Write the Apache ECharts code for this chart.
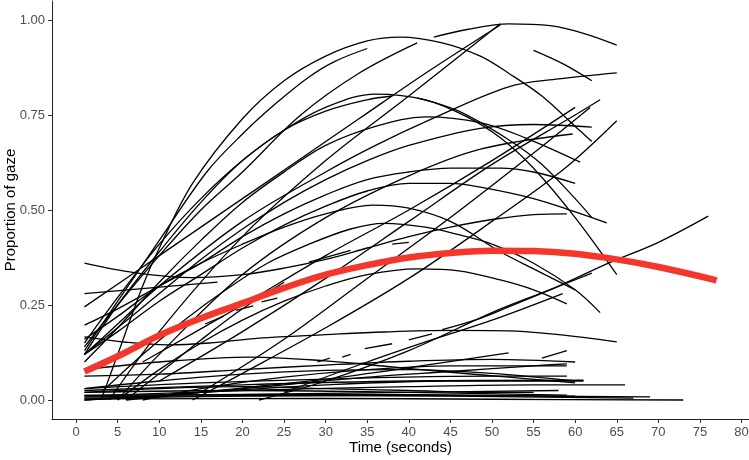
<!DOCTYPE html>
<html>
<head>
<meta charset="utf-8">
<script src="https://cdn.jsdelivr.net/npm/echarts@6/dist/echarts.min.js"></script>
<style>
html,body{margin:0;padding:0;background:#fff;}
#chart{width:749px;height:460px;}
</style>
</head>
<body>
<div id="chart"></div>
<script>
// ---- tick labels ----
const timeTicks = [0,5,10,15,20,25,30,35,40,45,50,55,60,65,70,75,80];
const propTicks = [0,0.25,0.5,0.75,1];

// ---- overall (red) fit ----
const overallTime = [1,5,10,15,20,25,30,35,40,45,50,55,60,65,70,77];
const overallProp = [0.075,0.115,0.17,0.215,0.255,0.295,0.33,0.355,0.375,0.387,0.393,0.392,0.385,0.37,0.35,0.315];

// ---- individual fits: [time, proportion] points, null = gap ----
const highCurves = [
  [[3,0],[5,0.12],[8,0.3],[10,0.4],[14,0.57],[20,0.74],[25,0.84],[30,0.905],[35,0.945],[39,0.955],[44,0.94],[48.6,0.905],[52,0.86],[56,0.8],[60,0.72],[62,0.68]],
  [[1,0.13],[5,0.26],[10,0.42],[15.7,0.6],[20,0.7],[24,0.78],[28,0.85],[31,0.89],[35,0.925],null,[43,0.955],[47,0.975],[52,0.99],[57,0.985],[61,0.965],[65,0.934]],
  [[1,0.14],[5,0.25],[10,0.38],[15,0.5],[20,0.6],[27,0.75],[34,0.86],[41,0.94],null,[55,0.92],[58.5,0.885],[62,0.84]],
  [[1,0.12],[5,0.2],[10,0.3],[20,0.47],[30,0.6],[36,0.67],[42.5,0.737],[52,0.824],[58,0.845],[65,0.861]],
  [[1,0.245],[10,0.38],[20,0.53],[34,0.74],[42,0.86],[51,0.987]],
  [[4,0],[10,0.18],[20,0.43],[30,0.63],[40,0.8],[51,0.99]],
  [[1,0.12],[5,0.25],[10,0.39],[15,0.52],[20,0.63],[25,0.71],[30,0.77],[36,0.805],[42,0.79],[47,0.745],[51,0.69],[55,0.61],[60,0.48],[65,0.33]],
  [[1,0.15],[5,0.27],[10,0.41],[15,0.53],[20,0.63],[25,0.71],[30,0.76],[35,0.79],[38,0.8],null,[41,0.795],[46,0.76],[52,0.685],[56,0.62],[60,0.53],[62,0.48]],
  [[1,0.1],[5,0.19],[10,0.31],[15,0.42],[20,0.52],[25,0.6],[30,0.67],[36,0.72],[42,0.745],[48.6,0.73],[54,0.69],[60.6,0.626]],
  [[1,0.12],[5,0.19],[10,0.28],[15,0.37],[20,0.45],[25,0.52],[30,0.58],[35,0.63],[40,0.67],[48.6,0.715],[55,0.725],[62,0.718]],
  [[5,0],[10,0.12],[20,0.33],[30,0.48],[40,0.59],[48.6,0.66],[59.7,0.70]],
  [[10,0.05],[20,0.18],[30,0.32],[40,0.47],[50,0.62],[60,0.75],[63,0.79]],
  [[15,0.02],[25,0.16],[35,0.32],[45,0.48],[55,0.65],[61.8,0.77]],
  [[8,0.1],[20,0.25],[30,0.38],[40,0.5],[50,0.63],[60,0.77]],
  [[14,0],[20,0.07],[30,0.19],[40,0.32],[50,0.47],[58.5,0.605],[65,0.735]]
];

const midCurves = [
  [[1,0.197],[5,0.24],[10,0.3],[15,0.36],[20,0.43],[25,0.49],[30,0.54],[35,0.58],[40,0.6],[45,0.61],[51,0.61],[55,0.6],[60,0.57]],
  [[1,0.12],[5,0.18],[10,0.26],[15,0.33],[20,0.4],[25,0.46],[30,0.51],[35,0.55],[40,0.57],[45,0.57],[48.6,0.56],[55,0.53],[60,0.495],[63.8,0.466]],
  [[1,0.28],[9,0.295],[17,0.31]],
  [[1,0.36],[7,0.335],[14,0.322],[20,0.33],[25,0.347],[30,0.37],[35,0.4],[40,0.43],[45,0.455],[50,0.475],[55,0.488],[59,0.49]],
  [[3,0.02],[8,0.12],[13,0.21],[18,0.29],[23,0.36],[28,0.41],[33,0.45],[37,0.465],[42,0.455],[46,0.435],[50,0.41],[55,0.36],[60,0.29],[63,0.23]],
  [[1,0.16],[5,0.22],[10,0.3],[15,0.36],[20,0.41],[25,0.455],[30,0.49],[35.7,0.513],[40,0.505],[45,0.47],[51,0.39],[55,0.345],[60,0.29]],
  [[5,0],[10,0.08],[15,0.15],[20,0.21],[25,0.26],[30,0.3],[35,0.33],[41,0.345],[46,0.34],[51,0.316],[55,0.29],[59,0.253]],
  [[22,0],[30,0.05],[40,0.13],[50,0.23],[58,0.3],[64,0.36],[70,0.415],[76,0.484]],
  [[29,0.1],[30.5,0.11],null,[32,0.113],[33,0.12],null,[34.7,0.135],[38,0.148],null,[40,0.158],[42.8,0.174],null,[44,0.185],[48.6,0.215],[52,0.245],[57,0.29],[62,0.334]],
  [[25,0.02],[35,0.1],[43,0.16],[50,0.21],[58.5,0.28]],
  [[6,0],[10,0.07],[15,0.158],[20,0.24],[25,0.31],null,[28,0.363],[33,0.394],null,[38,0.41],[40,0.415]],
  [[15.5,0.2],[17.7,0.22],null,[19.2,0.236],[21.3,0.248],null,[22.3,0.258],[24.2,0.268]]
];

const lowCurves = [
  [[1,0.166],[6,0.152],[11,0.145],[16,0.15],[22,0.163],[30,0.172],[37,0.179],[45,0.183],[52,0.182],[58,0.172],[65,0.153]],
  [[1,0.063],[10,0.068],[20,0.08],[30,0.092],[40,0.102],[50,0.107],[60,0.1]],
  [[1,0.03],[15,0.045],[30,0.055],[45,0.062],[59,0.063]],
  [[1,0.025],[20,0.04],[40,0.05],[61,0.052]],
  [[1,0.01],[20,0.025],[40,0.035],[55,0.04],[66,0.04]],
  [[1,0.005],[20,0.01],[40,0.012],[55,0.01],[69,0.008]],
  [[1,0.003],[30,0.004],[50,0.002],[73,0]],
  [[1,0.008],[25,0.012],[45,0.01],[67,0.005]],
  [[1,0.02],[20,0.025],[40,0.02],[59,0.013]],
  [[1,0.08],[10,0.1],[21,0.113],[30,0.103],[38,0.087],[45,0.073],[52,0.06],[60,0.045]],
  [[1,0],[10,0.01],[21,0.034],[30,0.055],[40,0.085],[52,0.124]],
  [[1,0.03],[10,0.05],[20,0.068],[30,0.078],[40,0.08],[50,0.07],[60,0.05]],
  [[1,0.02],[10,0.03],[20,0.035],[30,0.03],[40,0.025],[50,0.02],[55,0.02]],
  [[1,0],[15,0.02],[30,0.04],[45,0.05],[61,0.05]],
  [[1,0.012],[20,0.015],[40,0.02],[58,0.025]],
  [[8,0],[15,0.03],[25,0.06],[35,0.08],[45,0.09],[59,0.09]],
  [[6,0],[15,0.02],[25,0.04],[35,0.06],[45,0.075],[55,0.09],[59,0.095]],
  [[1,0.012],[30,0.015],[60,0.01]],
  [[56,0.11],[59,0.13]]
];

// ---- build series ----
function splitSegments(curve) {
  const segs = [];
  let cur = [];
  curve.forEach(function (p) {
    if (p === null) { if (cur.length) segs.push(cur); cur = []; }
    else cur.push(p);
  });
  if (cur.length) segs.push(cur);
  return segs;
}

const series = [];
highCurves.concat(midCurves, lowCurves).forEach(function (curve) {
  splitSegments(curve).forEach(function (seg) {
    series.push({
      type: 'line',
      data: seg,
      smooth: 0.35,
      showSymbol: false,
      symbol: 'none',
      silent: true,
      lineStyle: { color: '#000', width: 1.3 },
      z: 2
    });
  });
});

series.push({
  type: 'line',
  data: overallTime.map(function (t, i) { return [t, overallProp[i]]; }),
  smooth: 0.4,
  showSymbol: false,
  symbol: 'none',
  silent: true,
  lineStyle: { color: '#f5362a', width: 6.5, cap: 'butt' },
  z: 5
});

const chart = echarts.init(document.getElementById('chart'), null, { renderer: 'canvas' });
chart.setOption({
  animation: false,
  backgroundColor: '#ffffff',
  textStyle: { fontFamily: 'Liberation Sans, Arial, sans-serif' },
  grid: { left: 52, right: 0, top: 1, bottom: 41, containLabel: false, outerBoundsMode: 'none' },
  xAxis: {
    type: 'value',
    min: -2.9,
    max: 80.9,
    name: 'Time (seconds)',
    nameLocation: 'middle',
    nameGap: 21,
    nameMoveOverlap: false,
    nameTextStyle: { color: '#000', fontSize: 15, fontFamily: 'Liberation Sans, Arial, sans-serif' },
    axisLine: { show: true, onZero: false, lineStyle: { color: '#222', width: 1 } },
    axisTick: { show: true, length: 4, customValues: timeTicks, lineStyle: { color: '#333', width: 1 } },
    axisLabel: { customValues: timeTicks, color: '#4d4d4d', fontSize: 13, margin: 7 },
    splitLine: { show: false }
  },
  yAxis: {
    type: 'value',
    min: -0.05,
    max: 1.05,
    name: 'Proportion of gaze',
    nameLocation: 'middle',
    nameGap: 34,
    nameMoveOverlap: false,
    nameTextStyle: { color: '#000', fontSize: 15, fontFamily: 'Liberation Sans, Arial, sans-serif' },
    axisLine: { show: true, onZero: false, lineStyle: { color: '#222', width: 1 } },
    axisTick: { show: true, length: 4, customValues: propTicks, lineStyle: { color: '#333', width: 1 } },
    axisLabel: {
      customValues: propTicks,
      color: '#4d4d4d',
      fontSize: 13,
      margin: 7,
      formatter: function (v) { return v.toFixed(2); }
    },
    splitLine: { show: false }
  },
  series: series
});
</script>
</body>
</html>
